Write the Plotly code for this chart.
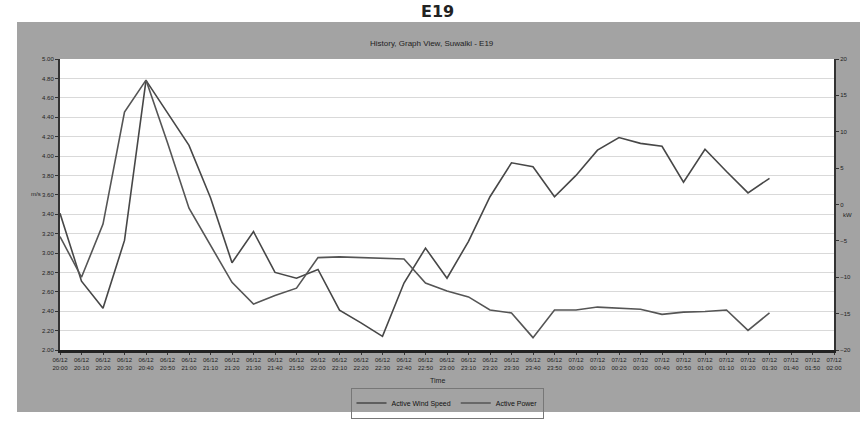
import plotly.graph_objects as go

# ---- data ----
time_labels = [
    "06/12<br>20:00", "06/12<br>20:10", "06/12<br>20:20", "06/12<br>20:30", "06/12<br>20:40", "06/12<br>20:50",
    "06/12<br>21:00", "06/12<br>21:10", "06/12<br>21:20", "06/12<br>21:30", "06/12<br>21:40", "06/12<br>21:50",
    "06/12<br>22:00", "06/12<br>22:10", "06/12<br>22:20", "06/12<br>22:30", "06/12<br>22:40", "06/12<br>22:50",
    "06/12<br>23:00", "06/12<br>23:10", "06/12<br>23:20", "06/12<br>23:30", "06/12<br>23:40", "06/12<br>23:50",
    "07/12<br>00:00", "07/12<br>00:10", "07/12<br>00:20", "07/12<br>00:30", "07/12<br>00:40", "07/12<br>00:50",
    "07/12<br>01:00", "07/12<br>01:10", "07/12<br>01:20", "07/12<br>01:30", "07/12<br>01:40", "07/12<br>01:50",
    "07/12<br>02:00",
]
wind_speed = [3.41, 2.71, 2.43, 3.13, 4.78, 4.45, 4.11, 3.57, 2.90, 3.22, 2.80, 2.74, 2.83, 2.41, 2.28, 2.14,
              2.69, 3.05, 2.74, 3.12, 3.58, 3.93, 3.89, 3.58, 3.80, 4.06, 4.19, 4.13, 4.10, 3.73, 4.07, 3.84,
              3.62, 3.77]
active_power = [-4.4, -10.0, -2.7, 12.7, 17.1, 8.5, -0.5, -5.7, -10.7, -13.7, -12.5, -11.5, -7.3, -7.2, -7.3,
                -7.3, -7.5, -10.8, -11.9, -12.7, -14.5, -14.9, -18.3, -14.5, -14.5, -14.1, -14.3, -14.4, -15.1,
                -14.8, -14.7, -14.5, -17.3, -14.9]

W, H = 860, 423
ML, MR, MT, MB = 60, 26, 59, 73
PW, PH = W - ML - MR, H - MT - MB


def px_x(x):  # window pixel -> paper x
    return (x - ML) / PW


def px_y(y):  # window pixel -> paper y
    return (H - MB - y) / PH


fig = go.Figure()
fig.add_trace(go.Scatter(
    x=time_labels[:len(wind_speed)], y=wind_speed, name="Active Wind Speed",
    mode="lines", line=dict(color="#474747", width=1.6), yaxis="y"))
fig.add_trace(go.Scatter(
    x=time_labels[:len(active_power)], y=active_power, name="Active Power",
    mode="lines", line=dict(color="#555555", width=1.6), yaxis="y2"))

small = dict(family="Liberation Sans, Arial, sans-serif", size=6, color="#222")

fig.update_layout(
    width=W, height=H,
    margin=dict(l=ML, r=MR, t=MT, b=MB, autoexpand=False),
    paper_bgcolor="white",
    plot_bgcolor="rgba(0,0,0,0)",
    showlegend=True,
    legend=dict(orientation="h", x=0.5, xanchor="center", y=px_y(403), yanchor="middle",
                bordercolor="#777", borderwidth=1, bgcolor="rgba(0,0,0,0)",
                font=dict(family="Liberation Sans, Arial, sans-serif", size=7, color="#111"),
                itemwidth=30, tracegroupgap=0),
    xaxis=dict(type="category", categoryorder="array", categoryarray=time_labels,
               range=[0, len(time_labels) - 1], tickmode="linear", tick0=0, dtick=1, tickangle=0,
               tickfont=small, ticks="outside", ticklen=2, tickcolor="#333",
               showline=True, linecolor="#222", linewidth=3, showgrid=False, zeroline=False),
    yaxis=dict(range=[2, 5], dtick=0.2, tickformat=".2f", tickfont=small, ticks="outside",
               ticklen=3, tickcolor="#333", showline=True, linecolor="#333", linewidth=2,
               showgrid=True, gridcolor="#d9d9d9", gridwidth=1, zeroline=False),
    yaxis2=dict(range=[-20, 20], dtick=5, overlaying="y", side="right", tickfont=small,
                ticks="outside", ticklen=3, tickcolor="#333", showline=True, linecolor="#333",
                linewidth=2, showgrid=False, zeroline=False),
    shapes=[
        dict(type="rect", xref="paper", yref="paper", x0=px_x(17), x1=px_x(870),
             y0=px_y(412), y1=px_y(22), fillcolor="#a3a3a3", line=dict(width=0), layer="below"),
        dict(type="rect", xref="paper", yref="paper", x0=0, x1=1, y0=0, y1=1,
             fillcolor="white", line=dict(width=0), layer="below"),
    ],
    annotations=[
        dict(text="<b>E19</b>", xref="paper", yref="paper", x=px_x(437), y=px_y(12),
             yanchor="middle", showarrow=False,
             font=dict(family="DejaVu Sans, Verdana, sans-serif", size=16, color="#222")),
        dict(text="History, Graph View, Suwalki - E19", xref="paper", yref="paper",
             x=px_x(432), y=px_y(44), yanchor="middle", showarrow=False,
             font=dict(family="Liberation Sans, Arial, sans-serif", size=8, color="#222")),
        dict(text="m/s", xref="paper", yref="paper", x=px_x(29), y=px_y(194), showarrow=False,
             font=small),
        dict(text="kW", xref="paper", yref="paper", x=px_x(854), y=px_y(215), showarrow=False,
             font=small),
        dict(text="Time", xref="paper", yref="paper", x=px_x(437), y=px_y(380), yanchor="middle",
             showarrow=False, font=dict(family="Liberation Sans, Arial, sans-serif", size=7, color="#222")),
    ],
)

fig.write_html("out.html", config={"displayModeBar": False},
               post_script="document.body.style.margin='0';")
